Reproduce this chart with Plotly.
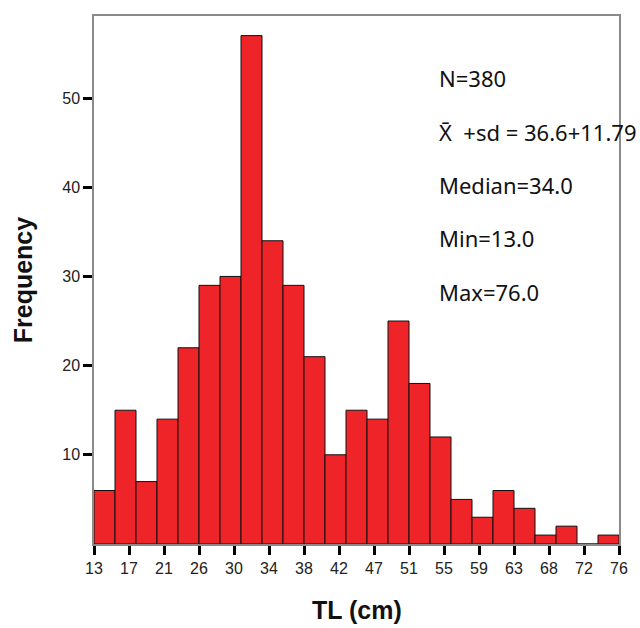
import plotly.graph_objects as go

# Data
counts = [6, 15, 7, 14, 22, 29, 30, 57, 34, 29, 21, 10, 15, 14, 25, 18, 12, 5, 3, 6, 4, 1, 2, 0, 1]
x_min, x_max = 13.0, 76.0
tick_labels = ["13", "17", "21", "26", "30", "34", "38", "42", "47", "51", "55", "59", "63", "68", "72", "76"]
y_ticks = [10, 20, 30, 40, 50]
stats_lines = ["N=380", "X\u0304  +sd = 36.6+11.79", "Median=34.0", "Min=13.0", "Max=76.0"]

n_bins = len(counts)
bw = (x_max - x_min) / n_bins
centers = [x_min + bw * (i + 0.5) for i in range(n_bins)]
n_ticks = len(tick_labels)
tick_pos = [x_min + (x_max - x_min) * k / (n_ticks - 1) for k in range(n_ticks)]

W, H = 640, 628
ML, MR, MT, MB = 94, 19, 16, 84
pw, ph = W - ML - MR, H - MT - MB

fig = go.Figure()
fig.add_trace(go.Bar(
    x=centers, y=counts, width=bw,
    marker=dict(color="#EE2428", line=dict(color="#111111", width=1)),
    hoverinfo="x+y",
))

fig.update_layout(
    width=W, height=H,
    margin=dict(l=ML, r=MR, t=MT, b=MB),
    paper_bgcolor="white", plot_bgcolor="white",
    showlegend=False,
    font=dict(family="Liberation Sans, Arial, sans-serif", size=16, color="#222222"),
)
fig.update_xaxes(
    range=[x_min, x_max], tickmode="array", tickvals=tick_pos, ticktext=tick_labels,
    ticks="outside", ticklen=9, tickwidth=3, tickcolor="black",
    showline=True, linecolor="#8a8a8a", linewidth=1.5, mirror=True,
    showgrid=False, zeroline=False,
    tickfont=dict(size=16, color="#222222"),
)
fig.update_yaxes(
    range=[0, 59.2], tickmode="array", tickvals=y_ticks,
    ticks="outside", ticklen=9, tickwidth=3, tickcolor="black",
    showline=True, linecolor="#8a8a8a", linewidth=1.5, mirror=True,
    showgrid=False, zeroline=False,
    tickfont=dict(size=16, color="#222222"),
)

# stats text
y0, dy = 52.2, 5.98
for i, t in enumerate(stats_lines):
    fig.add_annotation(x=54.1, y=y0 - i * dy, xref="x", yref="y", text=t,
                       showarrow=False, xanchor="left", yanchor="middle",
                       font=dict(family="Noto Sans, Open Sans, sans-serif", size=22, color="#111111"))

# axis titles (pixel positions converted to paper coordinates)
fig.add_annotation(x=(23 - ML) / pw, y=(H - MB - 280) / ph, xref="paper", yref="paper",
                   text="<b>Frequency</b>", showarrow=False, textangle=-90,
                   xanchor="center", yanchor="middle",
                   font=dict(family="Liberation Sans, Arial, sans-serif", size=25, color="#111111"))
fig.add_annotation(x=(358.5 - ML) / pw, y=(H - MB - 610) / ph, xref="paper", yref="paper",
                   text="<b>TL (cm)</b>", showarrow=False, xanchor="center", yanchor="middle",
                   font=dict(family="Liberation Sans, Arial, sans-serif", size=25, color="#111111"))

fig.write_html("out.html", config={"displayModeBar": False},
               post_script="document.body.style.margin='0';")
